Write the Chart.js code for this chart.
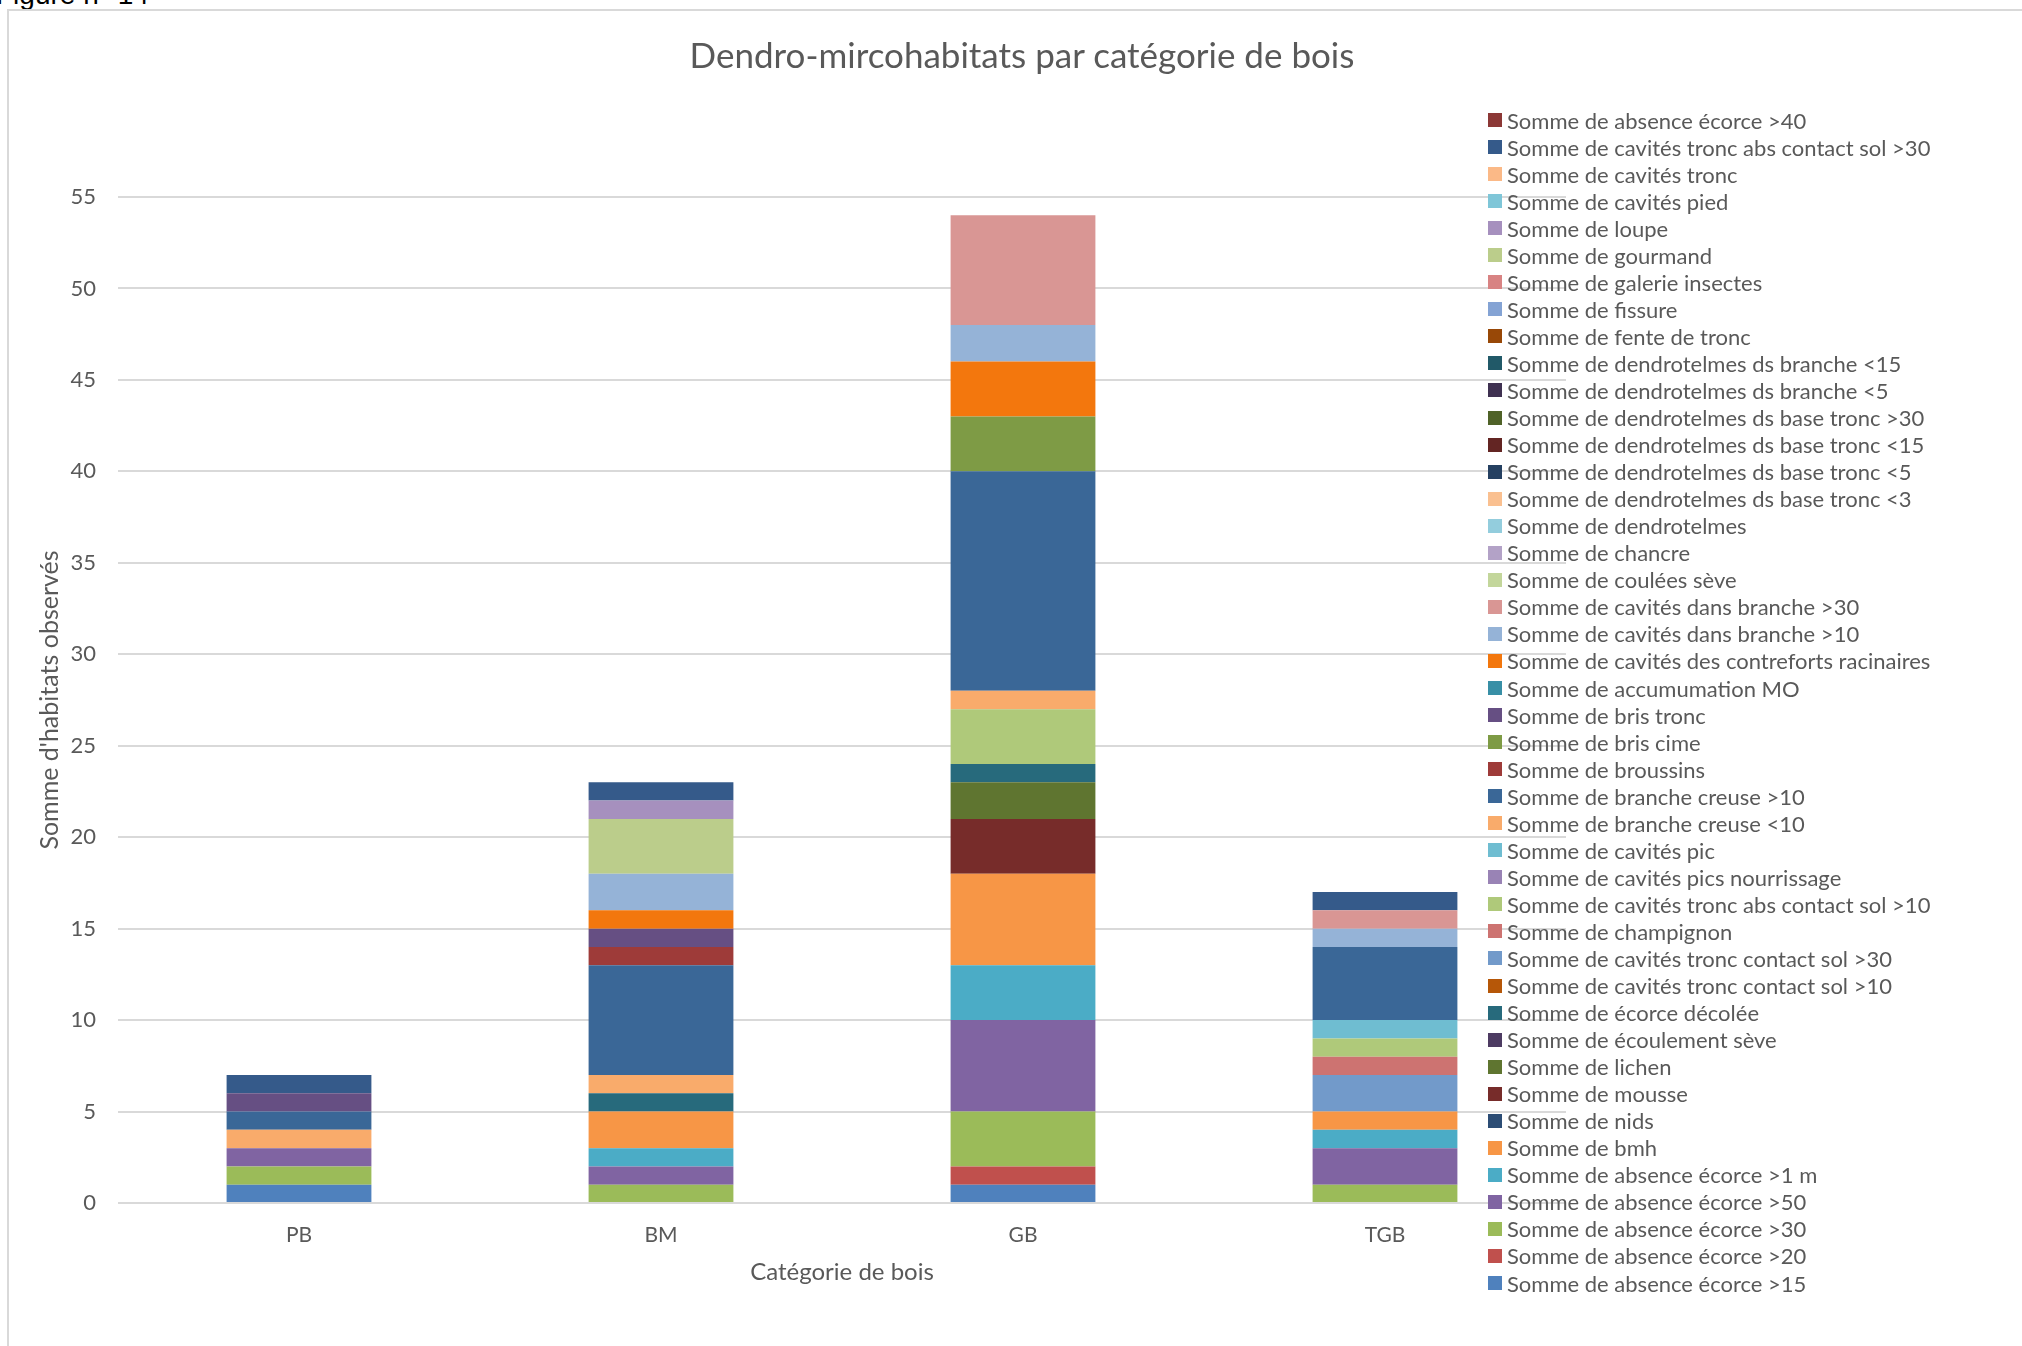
<!DOCTYPE html>
<html lang="fr">
<head>
<meta charset="utf-8">
<title>Dendro-mircohabitats par catégorie de bois</title>
<script src="https://cdn.jsdelivr.net/npm/chart.js@4.4.0/dist/chart.umd.min.js"></script>
<style>
  html, body { margin: 0; padding: 0; background: #fff; overflow: hidden; }
  #page { position: relative; width: 2022px; height: 1346px; overflow: hidden; }
  #fig { position: absolute; left: -4px; top: -21px; font: 28px "Liberation Sans", Arial, sans-serif; color: #000; }
  #frame { position: absolute; left: 7px; top: 9px; width: 2100px; height: 1400px; border: 2px solid #D9D9D9; }
  #myChart { position: absolute; left: 0; top: 0; }
  #title { position: absolute; left: 0; width: 2044px; top: 33px; line-height: 40px; text-align: center;
           font: 35px Lato, sans-serif; color: #595959; white-space: nowrap; }
  #legend { position: absolute; left: 1488px; top: 106.5px; font: 22px Lato, sans-serif; color: #595959; }
  .item { height: 27.05px; display: flex; align-items: center; white-space: nowrap; }
  .swatch { width: 14px; height: 14px; margin-right: 5px; flex: none; }
</style>
</head>
<body>
<div id="page">
  <div id="fig">Figure n° 14</div>
  <div id="frame"></div>
  <canvas id="myChart" width="2022" height="1346"></canvas>
  <div id="title">Dendro-mircohabitats par catégorie de bois</div>
  <div id="legend"></div>
</div>
<script>
var categories = ["PB", "BM", "GB", "TGB"];

// series listed from the bottom of the stack upwards
var seriesNames = [
    "Somme de absence écorce >15",
    "Somme de absence écorce >20",
    "Somme de absence écorce >30",
    "Somme de absence écorce >50",
    "Somme de absence écorce >1 m",
    "Somme de bmh",
    "Somme de nids",
    "Somme de mousse",
    "Somme de lichen",
    "Somme de écoulement sève",
    "Somme de écorce décolée",
    "Somme de cavités tronc contact sol >10",
    "Somme de cavités tronc contact sol >30",
    "Somme de champignon",
    "Somme de cavités tronc abs contact sol >10",
    "Somme de cavités pics nourrissage",
    "Somme de cavités pic",
    "Somme de branche creuse <10",
    "Somme de branche creuse >10",
    "Somme de broussins",
    "Somme de bris cime",
    "Somme de bris tronc",
    "Somme de accumumation MO",
    "Somme de cavités des contreforts racinaires",
    "Somme de cavités dans branche >10",
    "Somme de cavités dans branche >30",
    "Somme de coulées sève",
    "Somme de chancre",
    "Somme de dendrotelmes",
    "Somme de dendrotelmes ds base tronc <3",
    "Somme de dendrotelmes ds base tronc <5",
    "Somme de dendrotelmes ds base tronc <15",
    "Somme de dendrotelmes ds base tronc >30",
    "Somme de dendrotelmes ds branche <5",
    "Somme de dendrotelmes ds branche <15",
    "Somme de fente de tronc",
    "Somme de fissure",
    "Somme de galerie insectes",
    "Somme de gourmand",
    "Somme de loupe",
    "Somme de cavités pied",
    "Somme de cavités tronc",
    "Somme de cavités tronc abs contact sol >30",
    "Somme de absence écorce >40"
];

// one value per series, same order as seriesNames
var valuesPB  = [1,0,1,1,0,0,0,0,0,0,0,0,0,0,0,0,0,1,1,0,0,1,0,0,0,0,0,0,0,0,0,0,0,0,0,0,0,0,0,0,0,0,1,0];
var valuesBM  = [0,0,1,1,1,2,0,0,0,0,1,0,0,0,0,0,0,1,6,1,0,1,0,1,2,0,0,0,0,0,0,0,0,0,0,0,0,0,3,1,0,0,1,0];
var valuesGB  = [1,1,3,5,3,5,0,3,2,0,1,0,0,0,3,0,0,1,12,0,3,0,0,3,2,6,0,0,0,0,0,0,0,0,0,0,0,0,0,0,0,0,0,0];
var valuesTGB = [0,0,1,2,1,1,0,0,0,0,0,0,2,1,1,0,1,0,4,0,0,0,0,0,1,1,0,0,0,0,0,0,0,0,0,0,0,0,0,0,0,0,1,0];

var yTicks = [0, 5, 10, 15, 20, 25, 30, 35, 40, 45, 50, 55];

var seriesColors = [
    "#4F81BD", "#C0504D", "#9BBB59", "#8064A2", "#4BACC6", "#F79646",
    "#2C4D75", "#772C2A", "#5F7530", "#4D3B62", "#276A7C", "#B65708",
    "#729ACA", "#CD7371", "#AFC97A", "#9983B5", "#6FBDD1", "#F9AB6B",
    "#3A6797", "#9E3B39", "#7E9B45", "#664F83", "#388FA6", "#F3770D",
    "#95B3D7", "#D99694", "#C3D69B", "#B3A2C7", "#93CDDD", "#FAC090",
    "#254061", "#632523", "#4F6228", "#3F3151", "#215968", "#984807",
    "#84A3D4", "#D88383", "#BBCD8B", "#A690BE", "#7FC6D8", "#FBB987",
    "#355A8A", "#8C3836"
];

var textColor = "#595959";
var fontFamily = "Lato, sans-serif";

var datasets = seriesNames.map(function (name, i) {
    return {
        label: name,
        data: [valuesPB[i], valuesBM[i], valuesGB[i], valuesTGB[i]],
        backgroundColor: seriesColors[i],
        borderWidth: 0,
        categoryPercentage: 0.4,
        barPercentage: 1
    };
});

var chart = new Chart("myChart", {
    type: "bar",
    data: {
        labels: categories,
        datasets: datasets
    },
    options: {
        responsive: false,
        animation: false,
        layout: {
            padding: { left: 33, right: 456, top: 197, bottom: 0 }
        },
        scales: {
            x: {
                stacked: true,
                grid: { display: false, drawTicks: false },
                border: { display: false },
                ticks: {
                    color: textColor,
                    font: { family: fontFamily, size: 21 },
                    padding: 20
                },
                title: {
                    display: true,
                    text: "Catégorie de bois",
                    color: textColor,
                    font: { family: fontFamily, size: 24 },
                    padding: { top: 4, bottom: 59 }
                },
                afterFit: function (scale) { scale.height = 143; }
            },
            y: {
                stacked: true,
                min: 0,
                max: 55,
                afterBuildTicks: function (scale) {
                    scale.ticks = yTicks.map(function (v) { return { value: v }; });
                },
                grid: { color: "#D9D9D9", lineWidth: 2, drawTicks: false },
                border: { display: false },
                ticks: {
                    color: textColor,
                    font: { family: fontFamily, size: 22 },
                    padding: 22
                },
                title: {
                    display: true,
                    text: "Somme d'habitats observés",
                    color: textColor,
                    font: { family: fontFamily, size: 25 },
                    padding: { top: 2, bottom: 4 }
                },
                afterFit: function (scale) { scale.width = 85; }
            }
        },
        plugins: {
            legend: { display: false },
            tooltip: { enabled: false }
        }
    }
});

// legend on the right, top series first
var legendBox = document.getElementById("legend");
chart.data.datasets.slice().reverse().forEach(function (ds) {
    var row = document.createElement("div");
    row.className = "item";
    var sw = document.createElement("span");
    sw.className = "swatch";
    sw.style.background = ds.backgroundColor;
    var txt = document.createElement("span");
    txt.textContent = ds.label;
    row.appendChild(sw);
    row.appendChild(txt);
    legendBox.appendChild(row);
});
</script>
</body>
</html>
